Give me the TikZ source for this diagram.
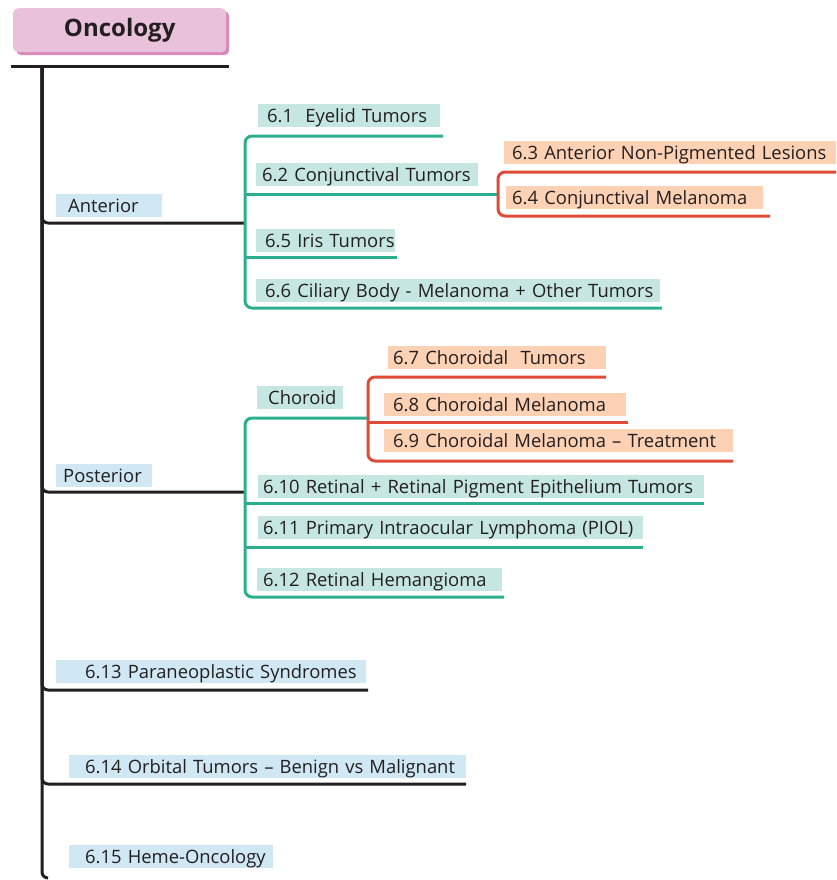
\documentclass[tikz,border=0pt]{standalone}
\usepackage{fontspec}
\setmainfont{Open Sans}
\usepackage{xcolor}
\usetikzlibrary{positioning,shadows}
\definecolor{xink}{HTML}{231F20}
\definecolor{xteal}{HTML}{2BAF8F}
\definecolor{xtealbg}{HTML}{C6E7E1}
\definecolor{xblubg}{HTML}{CFE8F4}
\definecolor{xpeach}{HTML}{FDD1B4}
\definecolor{xred}{HTML}{E04B37}
\definecolor{xpink}{HTML}{E9C1DA}
\definecolor{xpinkdk}{HTML}{D98AB9}

\begin{document}
\begin{tikzpicture}[x=1pt,y=-1pt,
  tag/.style={anchor=south west, inner sep=0pt, minimum height=23pt,
              text height=19pt, text depth=4pt, align=left, text width=#1,
              font=\fontsize{18.4}{21}\selectfont, text=xink},
  blutag/.style={tag=#1, fill=xblubg},
  grntag/.style={tag=#1, fill=xtealbg},
  pchtag/.style={tag=#1, fill=xpeach},
  headbox/.style={anchor=north west, fill=xpink, rounded corners=5pt,
              minimum width=213pt, minimum height=44pt, inner sep=0pt,
              font=\fontsize{24}{28}\selectfont\bfseries, text=xink,
              drop shadow={shadow xshift=3pt, shadow yshift=-3pt, fill=xpinkdk, opacity=1}},
  blkline/.style={line width=3pt, draw=xink, rounded corners=6pt},
  grnline/.style={line width=3pt, draw=xteal, rounded corners=7pt},
  redline/.style={line width=3pt, draw=xred, rounded corners=7pt}
]
  \useasboundingbox (0,0) rectangle (836,880);

  % title
  \node[headbox] (onc) at (13,8) {\raisebox{-2pt}{Oncology}};
  \coordinate (topL) at (11,67);
  \coordinate (topR) at (229,67);
  \draw[line width=3pt, draw=xink] (topL) -- (topR);

  % main trunk
  \coordinate (trunk) at (42,67);
  \coordinate (trunkEnd) at (48,878);
  \draw[blkline] (trunk) |- (trunkEnd);

  % first level
  \node[blutag=106pt] (ant)  at (56,217) {\hspace*{12pt}Anterior};
  \node[blutag=96pt]  (post) at (56,487) {\hspace*{7pt}Posterior};
  \node[blutag=310pt] (n613) at (56,683) {\hspace*{29pt}6.13 Paraneoplastic Syndromes};
  \node[blutag=397pt] (n614) at (69,778) {\hspace*{16pt}6.14 Orbital Tumors -- Benign vs Malignant};
  \node[blutag=204pt] (n615) at (69,868) {\hspace*{16pt}6.15 Heme-Oncology};

  \coordinate (antJ)  at (245,223);
  \coordinate (postJ) at (245,492);
  \coordinate (e613)  at (368,690);
  \coordinate (e614)  at (466,784);
  \draw[blkline] (trunk) |- (antJ);
  \draw[blkline] (trunk) |- (postJ);
  \draw[blkline] (trunk) |- (e613);
  \draw[blkline] (trunk) |- (e614);

  % anterior
  \node[grntag=182pt] (n61) at (258,127) {\hspace*{9pt}6.1~ Eyelid Tumors};
  \node[grntag=222pt] (n62) at (256,186) {\hspace*{6pt}6.2 Conjunctival Tumors};
  \node[grntag=139pt] (n65) at (256,252) {\hspace*{9pt}6.5 Iris Tumors};
  \node[grntag=404pt] (n66) at (256,302) {\hspace*{9pt}6.6 Ciliary Body - Melanoma + Other Tumors};

  \coordinate (e61) at (443,136);
  \coordinate (e62) at (498,194);
  \coordinate (e65) at (397,257);
  \coordinate (e66) at (662,308);
  \draw[grnline] (e61) -| (antJ) |- (e66);
  \draw[grnline] (antJ |- e62) -- (e62);
  \draw[grnline] (antJ |- e65) -- (e65);

  \node[pchtag=332pt] (n63) at (504,164) {\hspace*{8pt}6.3 Anterior Non-Pigmented Lesions};
  \node[pchtag=257pt] (n64) at (506,209) {\hspace*{6pt}6.4 Conjunctival Melanoma};

  \coordinate (e63) at (836,172);
  \coordinate (e64) at (770,216);
  \draw[redline] (e63) -| (e62) |- (e64);

  % posterior
  \node[grntag=86pt]  (chor) at (257,409) {\hspace*{11pt}Choroid};
  \node[grntag=446pt] (n610) at (258,498) {\hspace*{5pt}6.10 Retinal + Retinal Pigment Epithelium Tumors};
  \node[grntag=385pt] (n611) at (258,539) {\hspace*{5pt}6.11 Primary Intraocular Lymphoma (PIOL)};
  \node[grntag=245pt] (n612) at (257,591) {\hspace*{6pt}6.12 Retinal Hemangioma};

  \coordinate (chJ)  at (368,418);
  \coordinate (e610) at (704,503);
  \coordinate (e611) at (643,547);
  \coordinate (e612) at (504,597);
  \draw[grnline] (chJ) -| (postJ) |- (e612);
  \draw[grnline] (postJ |- e610) -- (e610);
  \draw[grnline] (postJ |- e611) -- (e611);

  \node[pchtag=218pt] (n67) at (388,369) {\hspace*{5pt}6.7 Choroidal~ Tumors};
  \node[pchtag=242pt] (n68) at (384,416) {\hspace*{9pt}6.8 Choroidal Melanoma};
  \node[pchtag=349pt] (n69) at (384,452) {\hspace*{9pt}6.9 Choroidal Melanoma -- Treatment};

  \coordinate (e67) at (606,377);
  \coordinate (e68) at (628,422);
  \coordinate (e69) at (733,461);
  \draw[redline] (e67) -| (chJ) |- (e69);
  \draw[redline] (chJ |- e68) -- (e68);
\end{tikzpicture}
\end{document}
